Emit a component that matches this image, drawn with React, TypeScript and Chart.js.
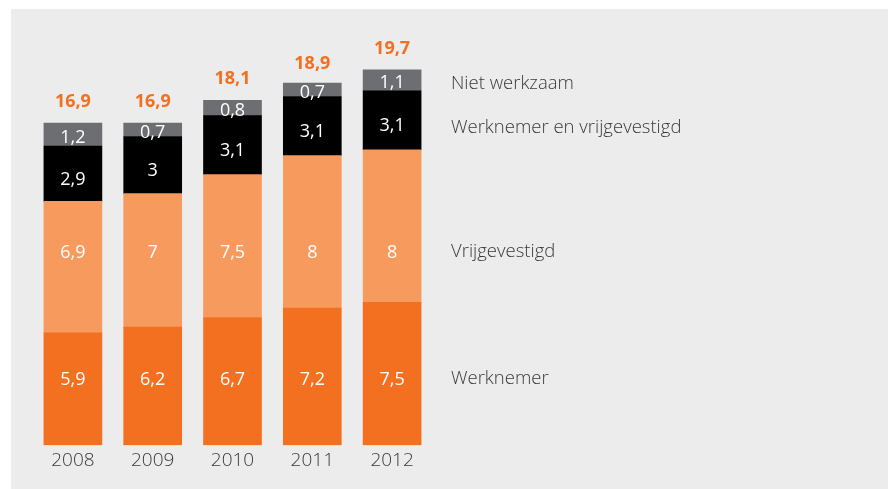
import React, { useEffect, useRef } from "react";
import { Chart, registerables } from "chart.js";

Chart.register(...registerables);

const years = ["2008", "2009", "2010", "2011", "2012"];
const werknemer = [5.9, 6.2, 6.7, 7.2, 7.5];
const vrijgevestigd = [6.9, 7, 7.5, 8, 8];
const werknemerEnVrij = [2.9, 3, 3.1, 3.1, 3.1];
const nietWerkzaam = [1.2, 0.7, 0.8, 0.7, 1.1];
const totals = [16.9, 16.9, 18.1, 18.9, 19.7];

const seriesNames = ["Werknemer", "Vrijgevestigd", "Werknemer en vrijgevestigd", "Niet werkzaam"];
// row positions (in value units) of the series names on the right
const legendValueY = [3.5, 10.15, 16.65, 18.95];

const COLORS = ["#F37021", "#F79A5E", "#000000", "#6D6E71"];
const FONT = "'Open Sans', 'DejaVu Sans', sans-serif";

const fmt = (v: number) => String(v).replace(".", ",");

export default function App() {
  const ref = useRef<HTMLCanvasElement | null>(null);

  useEffect(() => {
    document.body.style.margin = "0";
    const canvas = ref.current;
    if (!canvas) return;

    const bgPlugin = {
      id: "panelBg",
      beforeDraw(chart: any) {
        const ctx = chart.ctx;
        ctx.save();
        ctx.fillStyle = "#ffffff";
        ctx.fillRect(0, 0, chart.width, chart.height);
        ctx.fillStyle = "#ECECEC";
        ctx.fillRect(11, 9, 877, 480);
        ctx.restore();
      },
    };

    const labelPlugin = {
      id: "labels",
      afterDatasetsDraw(chart: any) {
        const ctx = chart.ctx;
        const yScale = chart.scales.y;
        ctx.save();
        ctx.textAlign = "center";
        ctx.textBaseline = "middle";
        chart.data.datasets.forEach((ds: any, di: number) => {
          const meta = chart.getDatasetMeta(di);
          meta.data.forEach((bar: any, i: number) => {
            const v = ds.data[i];
            const { x, y, base } = bar.getProps(["x", "y", "base"], true);
            let ly: number;
            if (di < 2) ly = yScale.getPixelForValue(legendValueY[di]) + 1;
            else if (di === 2) ly = (y + base) / 2 + 6;
            else ly = (y + base) / 2 + 3;
            ctx.fillStyle = "#ffffff";
            ctx.font = `400 18px ${FONT}`;
            ctx.fillText(fmt(v), x, ly);
          });
        });
        const lastMeta = chart.getDatasetMeta(chart.data.datasets.length - 1);
        lastMeta.data.forEach((bar: any, i: number) => {
          const { x } = bar.getProps(["x"], true);
          const top = yScale.getPixelForValue(totals[i]);
          ctx.fillStyle = "#F37021";
          ctx.font = `bold 18px ${FONT}`;
          ctx.fillText(fmt(totals[i]), x, top - 21);
        });
        ctx.textAlign = "left";
        ctx.fillStyle = "#3a3a3a";
        ctx.font = `300 18.5px ${FONT}`;
        seriesNames.forEach((name, i) => {
          ctx.fillText(name, chart.chartArea.right + 19, yScale.getPixelForValue(legendValueY[i]));
        });
        ctx.restore();
      },
    };

    const chart = new Chart(canvas, {
      type: "bar",
      data: {
        labels: years,
        datasets: [
          { label: seriesNames[0], data: werknemer, backgroundColor: COLORS[0] },
          { label: seriesNames[1], data: vrijgevestigd, backgroundColor: COLORS[1] },
          { label: seriesNames[2], data: werknemerEnVrij, backgroundColor: COLORS[2] },
          { label: seriesNames[3], data: nietWerkzaam, backgroundColor: COLORS[3] },
        ],
      },
      options: {
        animation: false,
        responsive: false,
        maintainAspectRatio: false,
        layout: { padding: { left: 33, right: 459, top: 26, bottom: 13 } },
        plugins: { legend: { display: false }, tooltip: { enabled: false } },
        datasets: { bar: { barThickness: 58, borderWidth: 0 } },
        scales: {
          x: {
            stacked: true,
            grid: { display: false, drawTicks: false },
            border: { display: false },
            ticks: { color: "#3a3a3a", font: { family: FONT, size: 19, weight: "300" }, padding: 4 },
          },
          y: {
            stacked: true,
            display: false,
            min: 0,
            max: 22,
          },
        },
      },
      plugins: [bgPlugin, labelPlugin],
    });

    return () => chart.destroy();
  }, []);

  return <canvas ref={ref} width={891} height={489} style={{ display: "block", width: 891, height: 489 }} />;
}
